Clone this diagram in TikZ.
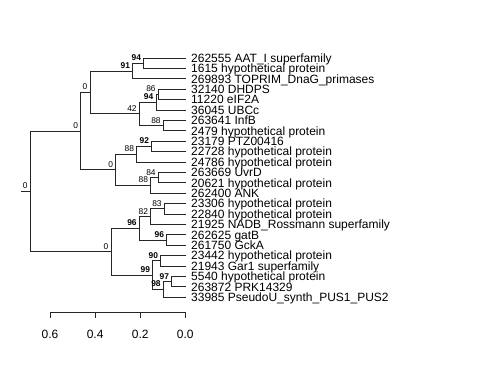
\documentclass[tikz,border=0pt]{standalone}
\usepackage{fontspec}
\setmainfont{Liberation Sans}
\begin{document}
\begin{tikzpicture}[x=1pt,y=-1pt,
  branch/.style={draw=black!85,line width=0.9pt},
  leaf/.style={anchor=west,inner xsep=5.5pt,inner ysep=0pt,text height=8.6pt,text depth=0pt,
    font=\fontsize{12}{12}\selectfont},
  support/.style={anchor=south east,inner sep=0pt,xshift=-2.5pt,yshift=2.3pt,text depth=0pt,
    font=\fontsize{8.4}{8.4}\selectfont},
  strong/.style={support,font=\fontsize{8.4}{8.4}\selectfont\bfseries},
  scalelab/.style={anchor=center,font=\fontsize{12}{12}\selectfont}]
\useasboundingbox (0,0) rectangle (480,384);
% leaves
\foreach \i/\txt in {1/{262555 AAT\_I superfamily},2/{1615 hypothetical protein},
  3/{269893 TOPRIM\_DnaG\_primases},4/{32140 DHDPS},5/{11220 eIF2A},6/{36045 UBCc},
  7/{263641 InfB},8/{2479 hypothetical protein},9/{23179 PTZ00416},
  10/{22728 hypothetical protein},11/{24786 hypothetical protein},12/{263669 UvrD},
  13/{20621 hypothetical protein},14/{262400 ANK},15/{23306 hypothetical protein},
  16/{22840 hypothetical protein},17/{21925 NADB\_Rossmann superfamily},18/{262625 gatB},
  19/{261750 GckA},20/{23442 hypothetical protein},21/{21943 Gar1 superfamily},
  22/{5540 hypothetical protein},23/{263872 PRK14329},24/{33985 PseudoU\_synth\_PUS1\_PUS2}}
  \node[leaf] (l\i) at (185.5,{58+10.4*(\i-1)}) {\txt};
% inner nodes
\coordinate (stem) at (20.7,191.4);
\coordinate (root) at (30.3,191.4);
\coordinate (up) at (80.7,131.1);
\coordinate (ua) at (90,92.45);
\coordinate (n91) at (132.7,71);
\coordinate (n94a) at (143.7,63.2);
\coordinate (n42) at (139.3,113.9);
\coordinate (n94b) at (156,102.2);
\coordinate (n86) at (158.3,94.4);
\coordinate (n88a) at (163.3,125.6);
\coordinate (uc) at (115.7,169.8);
\coordinate (n88b) at (136.7,154.2);
\coordinate (n92) at (151.7,146.4);
\coordinate (n88c) at (150.7,185.4);
\coordinate (n84) at (158.3,177.6);
\coordinate (low) at (111,251.7);
\coordinate (n96a) at (139.3,228.3);
\coordinate (n82) at (150.7,216.6);
\coordinate (n83) at (164.3,208.8);
\coordinate (n96b) at (166.7,240);
\coordinate (n99) at (152.7,275.1);
\coordinate (n90) at (160.7,260.8);
\coordinate (n98) at (163.3,289.4);
\coordinate (n97) at (171.7,281.6);
% branches
\draw[branch] (stem) -- (root);
\draw[branch] (root) |- (up);
\draw[branch] (root) |- (low);
\draw[branch] (up) |- (ua);
\draw[branch] (up) |- (uc);
\draw[branch] (ua) |- (n91);
\draw[branch] (ua) |- (n42);
\draw[branch] (n91) |- (n94a);
\draw[branch] (n91) |- (l3);
\draw[branch] (n94a) |- (l1);
\draw[branch] (n94a) |- (l2);
\draw[branch] (n42) |- (n94b);
\draw[branch] (n42) |- (n88a);
\draw[branch] (n94b) |- (n86);
\draw[branch] (n94b) |- (l6);
\draw[branch] (n86) |- (l4);
\draw[branch] (n86) |- (l5);
\draw[branch] (n88a) |- (l7);
\draw[branch] (n88a) |- (l8);
\draw[branch] (uc) |- (n88b);
\draw[branch] (uc) |- (n88c);
\draw[branch] (n88b) |- (n92);
\draw[branch] (n88b) |- (l11);
\draw[branch] (n92) |- (l9);
\draw[branch] (n92) |- (l10);
\draw[branch] (n88c) |- (n84);
\draw[branch] (n88c) |- (l14);
\draw[branch] (n84) |- (l12);
\draw[branch] (n84) |- (l13);
\draw[branch] (low) |- (n96a);
\draw[branch] (low) |- (n99);
\draw[branch] (n96a) |- (n82);
\draw[branch] (n96a) |- (n96b);
\draw[branch] (n82) |- (n83);
\draw[branch] (n82) |- (l17);
\draw[branch] (n83) |- (l15);
\draw[branch] (n83) |- (l16);
\draw[branch] (n96b) |- (l18);
\draw[branch] (n96b) |- (l19);
\draw[branch] (n99) |- (n90);
\draw[branch] (n99) |- (n98);
\draw[branch] (n90) |- (l20);
\draw[branch] (n90) |- (l21);
\draw[branch] (n98) |- (n97);
\draw[branch] (n98) |- (l24);
\draw[branch] (n97) |- (l22);
\draw[branch] (n97) |- (l23);
% support values
\node[support] (s-root) at (root) {0};
\node[support] (s-up) at (up) {0};
\node[support] (s-ua) at (ua) {0};
\node[strong] (s-n91) at (n91) {91};
\node[strong] (s-n94a) at (n94a) {94};
\node[support] (s-n42) at (n42) {42};
\node[strong] (s-n94b) at (n94b) {94};
\node[support] (s-n86) at (n86) {86};
\node[support] (s-n88a) at (n88a) {88};
\node[support] (s-uc) at (uc) {0};
\node[support] (s-n88b) at (n88b) {88};
\node[strong] (s-n92) at (n92) {92};
\node[support] (s-n88c) at (n88c) {88};
\node[support] (s-n84) at (n84) {84};
\node[support] (s-low) at (low) {0};
\node[strong] (s-n96a) at (n96a) {96};
\node[support] (s-n82) at (n82) {82};
\node[support] (s-n83) at (n83) {83};
\node[strong] (s-n96b) at (n96b) {96};
\node[strong] (s-n99) at (n99) {99};
\node[strong] (s-n90) at (n90) {90};
\node[strong] (s-n98) at (n98) {98};
\node[strong] (s-n97) at (n97) {97};
% scale
\coordinate (bar0) at (185.3,312);
\coordinate (bar6) at (50,312);
\draw[branch] (bar6) -- (bar0);
\foreach \v/\t in {0/0.0,1/0.2,2/0.4,3/0.6}{
  \coordinate (tick\v) at ({185.3-45.1*\v},312);
  \draw[branch] (tick\v) -- ++(0,6);
  \node[scalelab] (lab\v) at ({185.3-45.1*\v},334) {\t};
}
\end{tikzpicture}
\end{document}
